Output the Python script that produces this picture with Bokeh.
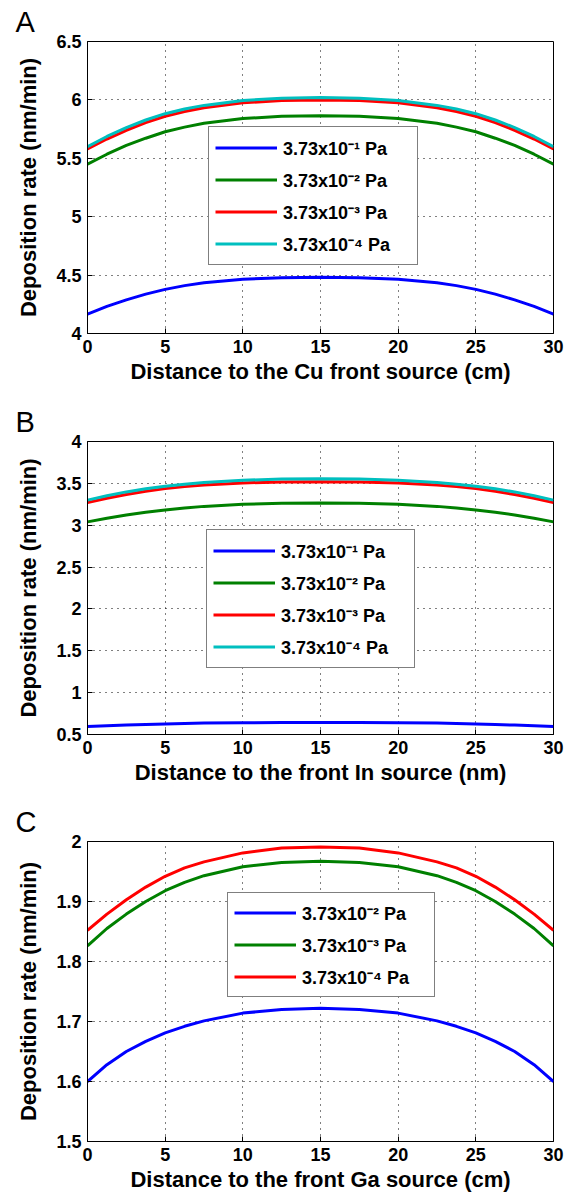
from bokeh.plotting import figure
from bokeh.models import FixedTicker, Legend, LegendItem, Range1d
from bokeh.layouts import column
from bokeh.embed import file_html
from bokeh.resources import INLINE

# ---------------- data ----------------
x_dist = [0, 1.25, 2.5, 3.75, 5, 6.25, 7.5, 10, 12.5, 15, 17.5, 20, 22.5, 23.75, 25, 26.25, 27.5, 28.75, 30]
x_ticks = [0, 5, 10, 15, 20, 25, 30]

# Panel A (Cu)
a_p1 = [4.165, 4.232, 4.288, 4.337, 4.378, 4.41, 4.434, 4.465, 4.478, 4.482, 4.478, 4.465, 4.434, 4.41, 4.378, 4.337, 4.288, 4.232, 4.165]
a_p2 = [5.45, 5.535, 5.61, 5.672, 5.727, 5.767, 5.80, 5.84, 5.86, 5.865, 5.86, 5.84, 5.80, 5.767, 5.727, 5.672, 5.61, 5.535, 5.45]
a_p3 = [5.58, 5.665, 5.74, 5.805, 5.86, 5.90, 5.933, 5.975, 5.995, 6.0, 5.995, 5.975, 5.933, 5.90, 5.86, 5.805, 5.74, 5.665, 5.58]
a_p4 = [5.60, 5.687, 5.763, 5.828, 5.882, 5.922, 5.953, 5.995, 6.015, 6.02, 6.015, 5.995, 5.953, 5.922, 5.882, 5.828, 5.763, 5.687, 5.60]
a_yticks = [4, 4.5, 5, 5.5, 6, 6.5]

# Panel B (In)
b_p1 = [0.595, 0.604, 0.612, 0.619, 0.626, 0.632, 0.636, 0.641, 0.643, 0.644, 0.643, 0.641, 0.636, 0.632, 0.626, 0.619, 0.612, 0.604, 0.595]
b_p2 = [3.04, 3.084, 3.122, 3.155, 3.183, 3.206, 3.225, 3.25, 3.262, 3.265, 3.262, 3.25, 3.225, 3.206, 3.183, 3.155, 3.122, 3.084, 3.04]
b_p3 = [3.27, 3.322, 3.367, 3.405, 3.437, 3.461, 3.48, 3.505, 3.517, 3.52, 3.517, 3.505, 3.48, 3.461, 3.437, 3.405, 3.367, 3.322, 3.27]
b_p4 = [3.30, 3.352, 3.398, 3.435, 3.465, 3.49, 3.51, 3.537, 3.551, 3.555, 3.551, 3.537, 3.51, 3.49, 3.465, 3.435, 3.398, 3.352, 3.30]
b_yticks = [0.5, 1, 1.5, 2, 2.5, 3, 3.5, 4]

# Panel C (Ga)
c_p2 = [1.600, 1.628, 1.650, 1.667, 1.681, 1.692, 1.701, 1.714, 1.720, 1.722, 1.720, 1.714, 1.701, 1.692, 1.681, 1.667, 1.650, 1.628, 1.600]
c_p3 = [1.826, 1.855, 1.879, 1.900, 1.918, 1.932, 1.943, 1.958, 1.965, 1.967, 1.965, 1.958, 1.943, 1.932, 1.918, 1.900, 1.879, 1.855, 1.826]
c_p4 = [1.852, 1.879, 1.903, 1.924, 1.942, 1.956, 1.966, 1.981, 1.989, 1.991, 1.989, 1.981, 1.966, 1.956, 1.942, 1.924, 1.903, 1.879, 1.852]
c_yticks = [1.5, 1.6, 1.7, 1.8, 1.9, 2.0]

lab1 = "3.73x10\u207b\u00b9 Pa"
lab2 = "3.73x10\u207b\u00b2 Pa"
lab3 = "3.73x10\u207b\u00b3 Pa"
lab4 = "3.73x10\u207b\u2074 Pa"

BLUE = "#0000ff"
GREEN = "#008000"
RED = "#ff0000"
CYAN = "#00bfbf"

FONT = "Liberation Sans"


def fmt(t):
    return ("%g" % t)


def make_panel(letter, series, yr, yticks, xlabel, h, top, bottom,
               leg_loc, leg_w, leg_row, leg_sp):
    p = figure(width=573, height=h, x_range=Range1d(0, 30),
               y_range=Range1d(yr[0], yr[1]),
               output_backend="svg", toolbar_location=None,
               min_border_left=87, min_border_right=20,
               min_border_top=top, min_border_bottom=bottom,
               title=letter, title_location="above")
    p.outline_line_color = "black"
    p.outline_line_width = 1
    p.background_fill_color = "white"

    p.title.align = "left"
    p.title.offset = -72
    p.title.standoff = 7
    p.title.text_font = FONT
    p.title.text_font_style = "normal"
    p.title.text_font_size = "29px"
    p.title.text_color = "black"

    xt = FixedTicker(ticks=x_ticks)
    yt = FixedTicker(ticks=yticks)
    ax = p.xaxis[0]
    ax.ticker = xt
    ax.major_label_overrides = {t: fmt(t) for t in x_ticks}
    ay = p.yaxis[0]
    ay.ticker = yt
    ay.major_label_overrides = {t: fmt(t) for t in yticks}
    for a in (ax, ay):
        a.major_tick_in = 5
        a.major_tick_out = 0
        a.minor_tick_line_color = None
        a.axis_line_color = "black"
        a.major_tick_line_color = "black"
        a.major_label_text_font = FONT
        a.major_label_text_font_style = "bold"
        a.major_label_text_font_size = "18px"
        a.major_label_text_color = "black"
        a.major_label_standoff = 6
        a.axis_label_text_font = FONT
        a.axis_label_text_font_style = "bold"
        a.axis_label_text_font_size = "22px"
        a.axis_label_text_color = "black"

    ax.axis_label = xlabel
    ax.axis_label_standoff = 3
    ay.axis_label = "Deposition rate (nm/min)"
    ay.axis_label_standoff = 12

    p.xgrid.ticker = xt
    p.ygrid.ticker = yt
    for g in (p.xgrid, p.ygrid):
        g.grid_line_color = "black"
        g.grid_line_dash = "1 5"
        g.grid_line_width = 1

    items = []
    for ys, col, lab in series:
        r = p.line(x_dist, ys, line_color=col, line_width=3)
        items.append(LegendItem(label=lab, renderers=[r]))

    leg = Legend(items=items, location=leg_loc,
                 border_line_color="black", border_line_width=1,
                 background_fill_color="white", background_fill_alpha=1,
                 padding=6, spacing=leg_sp, margin=0,
                 glyph_width=62, glyph_height=leg_row, label_height=leg_row,
                 label_standoff=6, label_width=leg_w - 12 - 62 - 6,
                 label_text_font=FONT, label_text_font_style="bold",
                 label_text_font_size="18px", label_text_color="black")
    p.add_layout(leg)
    return p


pa = make_panel("A",
                [(a_p1, BLUE, lab1), (a_p2, GREEN, lab2), (a_p3, RED, lab3), (a_p4, CYAN, lab4)],
                (4, 6.5), a_yticks, "Distance to the Cu front source (cm)",
                400, 39, 67, (121, 68), 208, 29, 3)
pb = make_panel("B",
                [(b_p1, BLUE, lab1), (b_p2, GREEN, lab2), (b_p3, RED, lab3), (b_p4, CYAN, lab4)],
                (0.5, 4), b_yticks, "Distance to the front In source (nm)",
                400, 33, 66, (119, 66), 207, 29, 3)
pc = make_panel("C",
                [(c_p2, BLUE, lab2), (c_p3, GREEN, lab3), (c_p4, RED, lab4)],
                (1.5, 2), c_yticks, "Distance to the front Ga source (cm)",
                398, 37, 57, (140, 144), 206, 27, 5)

layout = column(pa, pb, pc, spacing=0)
open("out.html", "w").write(file_html(layout, INLINE))
